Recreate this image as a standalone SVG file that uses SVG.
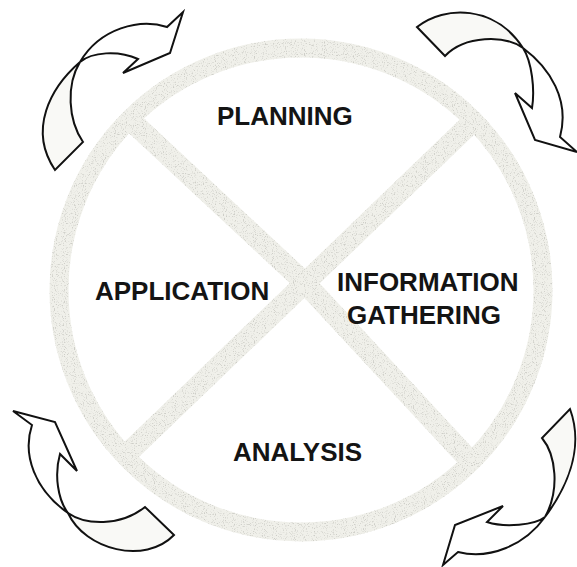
<svg xmlns="http://www.w3.org/2000/svg" width="577" height="567" viewBox="0 0 577 567">
<defs>
<style>
.lbl{font-family:"Liberation Sans",Arial,Helvetica,sans-serif;font-weight:bold;font-size:26px;fill:#141414}
.band{fill:none;stroke:#f0f0ea}
.front{fill:#ffffff;stroke:#111;stroke-width:2;stroke-linejoin:miter}
.back{fill:#f9f9f6;stroke:#111;stroke-width:2;stroke-linejoin:miter}
</style>
<clipPath id="inside"><circle cx="301" cy="290" r="244"/></clipPath>
<filter id="speckle" filterUnits="userSpaceOnUse" x="0" y="0" width="577" height="567">
<feTurbulence type="fractalNoise" baseFrequency="0.9" numOctaves="1" seed="4" result="n"/>
<feColorMatrix in="n" type="matrix" values="0 0 0 0 0.62  0 0 0 0 0.62  0 0 0 0 0.58  5 0 0 0 -2.7" result="dots"/>
<feComposite in="dots" in2="SourceGraphic" operator="in" result="d2"/>
<feMerge><feMergeNode in="SourceGraphic"/><feMergeNode in="d2"/></feMerge>
</filter>
</defs>
<rect width="577" height="567" fill="#ffffff"/>
<g id="cycle" filter="url(#speckle)">
<circle class="band" cx="301" cy="290" r="242" stroke-width="19"/>
<g clip-path="url(#inside)">
<path class="band" d="M112,103 L305,283 L486,478" stroke-width="21"/>
<path class="band" d="M492,103 L305,283 L104,476" stroke-width="21"/>
</g>
</g>
<g id="planning"><text class="lbl" x="217" y="125">PLANNING</text></g>
<g id="application"><text class="lbl" x="95" y="300">APPLICATION</text></g>
<g id="information-gathering"><text class="lbl" x="337" y="291">INFORMATION</text><text class="lbl" x="347" y="324">GATHERING</text></g>
<g id="analysis"><text class="lbl" x="233" y="461">ANALYSIS</text></g>
<g id="connectors">
<g id="arrow-top-left">
<path class="back" d="M80,62 C50,88 28,130 55,170 L83,142 C68,120 66,85 80,62 Z"/>
<path class="front" d="M80,62 C92,52 118,50 138,59 L123,73 L170,53 L183,12 L167,27 C140,18 100,28 80,62 Z"/>
</g>
<g id="arrow-top-right">
<path class="back" d="M417,27 C445,5 495,5 523,48 C505,35 465,35 445,56 Z"/>
<path class="front" d="M523,48 C550,68 570,100 560,137 L577,152 L535,140 L515,93 L532,108 C535,90 532,62 523,48 Z"/>
</g>
<g id="arrow-bottom-right">
<path class="back" d="M545,517 C565,490 585,450 570,409 L542,438 C556,455 560,490 545,517 Z"/>
<path class="front" d="M545,517 C535,525 505,528 487,522 L503,506 L455,525 L443,565 L458,552 C490,560 525,545 545,517 Z"/>
</g>
<g id="arrow-bottom-left">
<path class="back" d="M68,513 C85,525 120,527 145,507 L174,535 C145,565 85,550 68,513 Z"/>
<path class="front" d="M68,513 C58,500 54,475 60,454 L77,471 L55,422 L13,411 L32,425 C22,455 35,490 68,513 Z"/>
</g>
</g>
</svg>
